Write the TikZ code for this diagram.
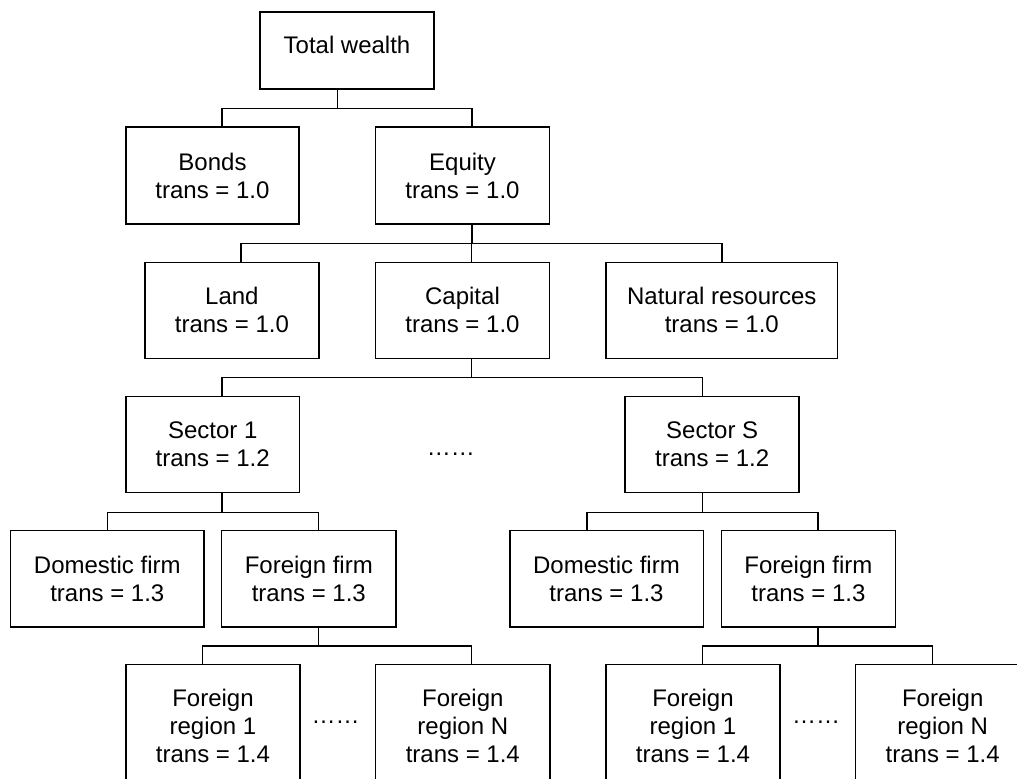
\documentclass[tikz,border=0pt]{standalone}
\usepackage{fontspec}
\setmainfont{Liberation Sans}
\begin{document}
\begin{tikzpicture}[x=0.75pt,y=-0.75pt,
  box/.style={draw, line width=1.1pt, align=center, inner sep=0pt, font=\fontsize{18}{21}\selectfont},
  edge/.style={line width=1.1pt},
  dotsnode/.style={inner sep=0pt, font=\fontsize{18}{21}\selectfont}]
\useasboundingbox (0,0) rectangle (1017,778);
\clip (0,0) rectangle (1017,778);
\fill[white] (0,0) rectangle (1017,778);
% level 0
\node[box, minimum width=130.5pt, minimum height=57.75pt, text depth=9pt] (tw) at (347,50.5) {Total wealth};
% level 1
\node[box, minimum width=129.75pt, minimum height=72.75pt] (bonds) at (212.5,175.5) {Bonds\\trans = 1.0};
\node[box, minimum width=130.2pt, minimum height=72.75pt] (equity) at (462.5,175.5) {Equity\\trans = 1.0};
% level 2
\node[box, minimum width=130.7pt, minimum height=72pt] (land) at (231.9,310.3) {Land\\trans = 1.0};
\node[box, minimum width=130.2pt, minimum height=72pt] (capital) at (462.5,310.3) {Capital\\trans = 1.0};
\node[box, minimum width=173.6pt, minimum height=72pt] (natres) at (721.8,310.3) {Natural resources\\trans = 1.0};
% level 3
\node[box, minimum width=130pt, minimum height=72.3pt] (sec1) at (212.7,444.5) {Sector 1\\trans = 1.2};
\node[box, minimum width=130.5pt, minimum height=72.3pt] (secS) at (712.2,444.5) {Sector S\\trans = 1.2};
\node[dotsnode] (dmid) at (450.8,454) {……};
% level 4
\node[box, minimum width=145pt, minimum height=72.2pt] (df1) at (107.3,578.8) {Domestic firm\\trans = 1.3};
\node[box, minimum width=130.7pt, minimum height=72.2pt] (ff1) at (308.8,578.8) {Foreign firm\\trans = 1.3};
\node[box, minimum width=145.1pt, minimum height=72.2pt] (dfS) at (606.5,578.8) {Domestic firm\\trans = 1.3};
\node[box, minimum width=130.5pt, minimum height=72.2pt] (ffS) at (808.4,578.8) {Foreign firm\\trans = 1.3};
% level 5
\node[box, minimum width=130.5pt, minimum height=92.25pt] (fr1a) at (213,726) {Foreign\\region 1\\trans = 1.4};
\node[box, minimum width=130.7pt, minimum height=92.25pt] (frNa) at (462.8,726) {Foreign\\region N\\trans = 1.4};
\node[box, minimum width=130.5pt, minimum height=92.25pt] (fr1b) at (693,726) {Foreign\\region 1\\trans = 1.4};
\node[box, minimum width=130.5pt, minimum height=92.25pt] (frNb) at (942.7,726) {Foreign\\region N\\trans = 1.4};
\node[dotsnode] (dla) at (335.5,722) {……};
\node[dotsnode] (dlb) at (816,722) {……};
% connectors
\draw[edge] ([xshift=-7pt]tw.south) -- ++(0,19) -| ([xshift=7.1pt]bonds.north);
\draw[edge] ([xshift=-7pt]tw.south) -- ++(0,19) -| ([xshift=7.1pt]equity.north);
\draw[edge] ([xshift=7.1pt]equity.south) -- ++(0,18.5) -| ([xshift=6.8pt]land.north);
\draw[edge] ([xshift=7.1pt]equity.south) -- ++(0,18.5) -| ([xshift=6.9pt]capital.north);
\draw[edge] ([xshift=7.1pt]equity.south) -- ++(0,18.5) -| (natres.north);
\draw[edge] ([xshift=6.9pt]capital.south) -- ++(0,18.7) -| ([xshift=7pt]sec1.north);
\draw[edge] ([xshift=6.9pt]capital.south) -- ++(0,18.7) -| ([xshift=-7.2pt]secS.north);
\draw[edge] ([xshift=7pt]sec1.south) -- ++(0,19) -| (df1.north);
\draw[edge] ([xshift=7pt]sec1.south) -- ++(0,19) -| ([xshift=7.1pt]ff1.north);
\draw[edge] ([xshift=-7.2pt]secS.south) -- ++(0,19) -| ([xshift=-14.5pt]dfS.north);
\draw[edge] ([xshift=-7.2pt]secS.south) -- ++(0,19) -| ([xshift=7.2pt]ffS.north);
\draw[edge] ([xshift=7.1pt]ff1.south) -- ++(0,18.5) -| ([xshift=-7.7pt]fr1a.north);
\draw[edge] ([xshift=7.1pt]ff1.south) -- ++(0,18.5) -| ([xshift=6.7pt]frNa.north);
\draw[edge] ([xshift=7.2pt]ffS.south) -- ++(0,18.5) -| ([xshift=7pt]fr1b.north);
\draw[edge] ([xshift=7.2pt]ffS.south) -- ++(0,18.5) -| ([xshift=-7.5pt]frNb.north);
\end{tikzpicture}
\end{document}
